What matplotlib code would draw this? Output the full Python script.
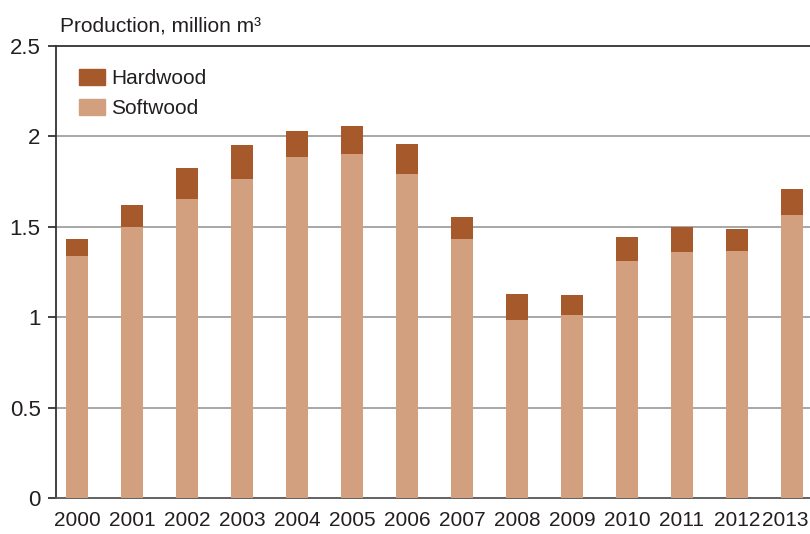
import matplotlib
matplotlib.use('Agg')
import matplotlib.pyplot as plt
import matplotlib.patches as mpatches
import matplotlib.transforms as mtransforms

years = ['2000', '2001', '2002', '2003', '2004', '2005', '2006',
         '2007', '2008', '2009', '2010', '2011', '2012', '2013']
softwood = [1.338, 1.499, 1.654, 1.764, 1.886, 1.903, 1.792,
            1.432, 0.985, 1.012, 1.311, 1.361, 1.366, 1.565]
hardwood_total = [1.432, 1.620, 1.825, 1.952, 2.030, 2.058, 1.958,
                  1.554, 1.128, 1.123, 1.444, 1.499, 1.488, 1.709]
hardwood = [t - s for t, s in zip(hardwood_total, softwood)]
yticks = [0, 0.5, 1, 1.5, 2, 2.5]
ytick_labels = ['0', '0.5', '1', '1.5', '2', '2.5']

plt.rcParams['font.family'] = ['Liberation Sans', 'DejaVu Sans']

soft_col = '#d2a07e'
hard_col = '#a6592a'
text_col = '#231f20'

fig = plt.figure(figsize=(8.1, 5.34), dpi=100)
ax = fig.add_axes([56 / 810, 36 / 534, 1 - 56 / 810, 452 / 534])

x = list(range(len(years)))
ax.bar(x, softwood, width=0.4, color=soft_col, zorder=3)
ax.bar(x, hardwood, width=0.4, bottom=softwood, color=hard_col, zorder=3)

ax.set_xlim(-0.38, 13.33)
ax.set_ylim(0, 2.5)
ax.set_yticks(yticks)
ax.set_yticklabels(ytick_labels)
ax.set_xticks(x)
ax.set_xticklabels(years)

for v in [0.5, 1, 1.5, 2]:
    ax.axhline(v, color='#a0a0a0', lw=1.3, zorder=1)
ax.axhline(2.5, color='#333333', lw=1.3, zorder=4, clip_on=False)

for s in ['top', 'right']:
    ax.spines[s].set_visible(False)
ax.spines['left'].set_color('#333333')
ax.spines['left'].set_linewidth(1.3)
ax.spines['bottom'].set_color('#555555')
ax.spines['bottom'].set_linewidth(1.3)
ax.tick_params(axis='y', length=6, width=1.3, color='#333333', pad=5,
               labelsize=16, labelcolor=text_col)
ax.tick_params(axis='x', length=0, pad=9, labelsize=15, labelcolor=text_col)

# keep the last year label inside the figure edge
last = ax.get_xticklabels()[-1]
last.set_transform(last.get_transform() +
                   mtransforms.ScaledTranslation(-7 / 100, 0, fig.dpi_scale_trans))

handles = [mpatches.Patch(color=hard_col, label='Hardwood'),
           mpatches.Patch(color=soft_col, label='Softwood')]
leg = ax.legend(handles=handles, loc='upper left',
                bbox_to_anchor=((79 - 56) / 754, (498 - 69) / 452),
                frameon=False, fontsize=15, handlelength=1.25, handleheight=0.77,
                handletextpad=0.3, labelspacing=0.55, borderaxespad=0, borderpad=0)
for t in leg.get_texts():
    t.set_color(text_col)

fig.text(60 / 810, 1 - 31 / 534, 'Production, million m³', fontsize=15,
         color=text_col, ha='left', va='baseline')

fig.savefig('out.png', dpi=100)
